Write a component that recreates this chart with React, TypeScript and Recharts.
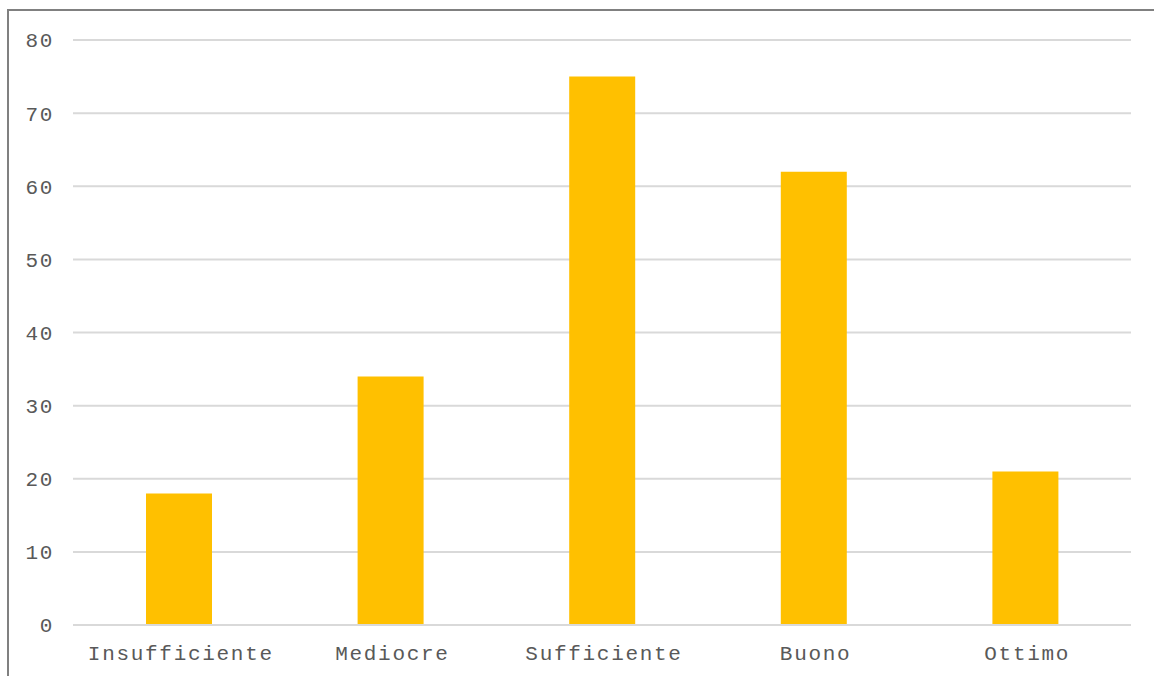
import React from "react";
import { BarChart, Bar, XAxis, YAxis, CartesianGrid } from "recharts";

const categories = ["Insufficiente", "Mediocre", "Sufficiente", "Buono", "Ottimo"];
const values = [18, 34, 75, 62, 21];
const yTicks = [0, 10, 20, 30, 40, 50, 60, 70, 80];

const data = categories.map((name, i) => ({ name, value: values[i] }));

const font = "'Liberation Mono', 'Courier New', monospace";
const tickStyle = { fill: "#595959", fontSize: 21, fontFamily: font, letterSpacing: 1.7 };

export default function App() {
  return (
    <div
      style={{
        position: "absolute",
        left: 7,
        top: 9,
        width: 1160,
        height: 680,
        border: "2px solid #808080",
        background: "#fff",
      }}
    >
      <BarChart
        width={1160}
        height={680}
        data={data}
        margin={{ top: 29, right: 38, left: 0, bottom: 26 }}
        barSize={66}
      >
        <CartesianGrid vertical={false} stroke="#d9d9d9" strokeWidth={2} />
        <XAxis
          dataKey="name"
          height={40}
          axisLine={{ stroke: "#d9d9d9", strokeWidth: 2 }}
          tickLine={false}
          tickSize={0}
          tickMargin={20}
          tick={{ ...tickStyle, dx: 2 }}
        />
        <YAxis
          width={64}
          domain={[0, 80]}
          ticks={yTicks}
          axisLine={false}
          tickLine={false}
          tickSize={0}
          tickMargin={19}
          tick={tickStyle}
        />
        <Bar dataKey="value" fill="#FFC000" isAnimationActive={false} />
      </BarChart>
    </div>
  );
}
